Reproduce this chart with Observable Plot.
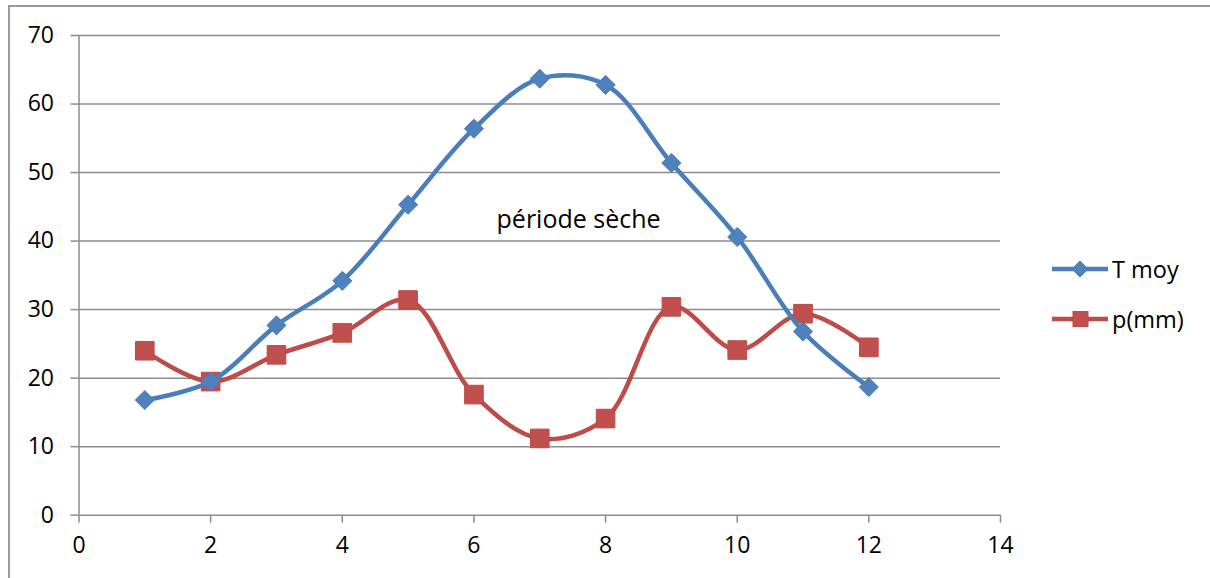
<!DOCTYPE html>
<html>
<head>
<meta charset="utf-8">
<script src="https://cdn.jsdelivr.net/npm/d3@7"></script>
<script src="https://cdn.jsdelivr.net/npm/@observablehq/plot@0.6"></script>
<style>
  html, body { margin: 0; padding: 0; background: #fff; }
  #wrap { position: relative; width: 1210px; height: 578px; overflow: hidden; font-family: "Open Sans", sans-serif; }
  #frameTop { position: absolute; left: 9px; top: 5px; width: 1300px; height: 0; border-top: 2px solid #9a9a9a; }
  #frameLeft { position: absolute; left: 8px; top: 5px; width: 0; height: 700px; border-left: 2px solid #9a9a9a; }
  #chart { position: absolute; left: 0; top: 0; }
  #legend { position: absolute; left: 1050px; top: 244px; font-size: 23.5px; color: #000; }
  .item { display: flex; align-items: center; height: 50px; }
  .item svg { margin-right: 2px; }
</style>
</head>
<body>
<div id="wrap">
  <div id="frameTop"></div>
  <div id="frameLeft"></div>
  <div id="chart"></div>
  <div id="legend"></div>
</div>
<script>
// Data
const months = [1, 2, 3, 4, 5, 6, 7, 8, 9, 10, 11, 12];
const tMoy = [16.8, 19.5, 27.7, 34.2, 45.3, 56.4, 63.7, 62.8, 51.4, 40.6, 26.8, 18.7];
const pMm = [24.0, 19.5, 23.4, 26.6, 31.4, 17.6, 11.2, 14.1, 30.4, 24.1, 29.4, 24.5];
const seriesNames = ["T moy", "p(mm)"];
const xTicks = [0, 2, 4, 6, 8, 10, 12, 14];
const yTicks = [0, 10, 20, 30, 40, 50, 60, 70];
const annotation = [{x: 7.59, y: 43.1, label: "période sèche"}];

const blue = "#4a7ebb", blueFill = "#4f81bd";
const red = "#be4b48", redFill = "#c0504d";
const grid = "#8c8c8c";

const tData = months.map((m, i) => ({x: m, y: tMoy[i]}));
const pData = months.map((m, i) => ({x: m, y: pMm[i]}));

const chart = Plot.plot({
  width: 1210,
  height: 578,
  marginLeft: 78.5,
  marginRight: 210,
  marginTop: 35,
  marginBottom: 63.3,
  style: {fontFamily: "Open Sans, sans-serif", fontSize: "23px", color: "#000", background: "transparent", overflow: "visible"},
  x: {domain: [0, 14], ticks: xTicks},
  y: {domain: [0, 70], ticks: yTicks},
  marks: [
    Plot.ruleY(yTicks.slice(1), {stroke: grid, strokeWidth: 1.5}),
    Plot.axisY({ticks: yTicks, tickSize: 8, tickPadding: 17, stroke: grid, strokeWidth: 1.5, label: null, fill: "#000", fontSize: 23}),
    Plot.axisX({ticks: xTicks, tickSize: 8, tickPadding: 13, stroke: grid, strokeWidth: 1.5, label: null, fill: "#000", fontSize: 23}),
    Plot.ruleY([0], {stroke: grid, strokeWidth: 1.5}),
    Plot.ruleX([0], {stroke: grid, strokeWidth: 1.5}),
    Plot.text(annotation, {x: "x", y: "y", text: "label", fontSize: 25, fill: "#000"}),
    Plot.line(pData, {x: "x", y: "y", curve: "catmull-rom", stroke: red, strokeWidth: 4.5}),
    Plot.dot(pData, {x: "x", y: "y", symbol: "square", r: 10.5, fill: redFill, stroke: red, strokeWidth: 1}),
    Plot.line(tData, {x: "x", y: "y", curve: "catmull-rom", stroke: blue, strokeWidth: 4.5}),
    Plot.dot(tData, {x: "x", y: "y", symbol: "diamond2", r: 8.6, fill: blueFill, stroke: blue, strokeWidth: 1})
  ]
});
document.getElementById("chart").appendChild(chart);

// Legend
const legend = document.getElementById("legend");
const swatches = [
  `<svg width="60" height="20"><line x1="2" y1="10" x2="58" y2="10" stroke="${blue}" stroke-width="4.5"/><path d="M30,2 L38,10 L30,18 L22,10 Z" fill="${blueFill}" stroke="${blue}"/></svg>`,
  `<svg width="60" height="20"><line x1="2" y1="10" x2="58" y2="10" stroke="${red}" stroke-width="4.5"/><rect x="23" y="2.5" width="15" height="15" fill="${redFill}" stroke="${red}"/></svg>`
];
seriesNames.forEach((name, i) => {
  const d = document.createElement("div");
  d.className = "item";
  d.innerHTML = swatches[i] + `<span>${name}</span>`;
  legend.appendChild(d);
});
</script>
</body>
</html>
